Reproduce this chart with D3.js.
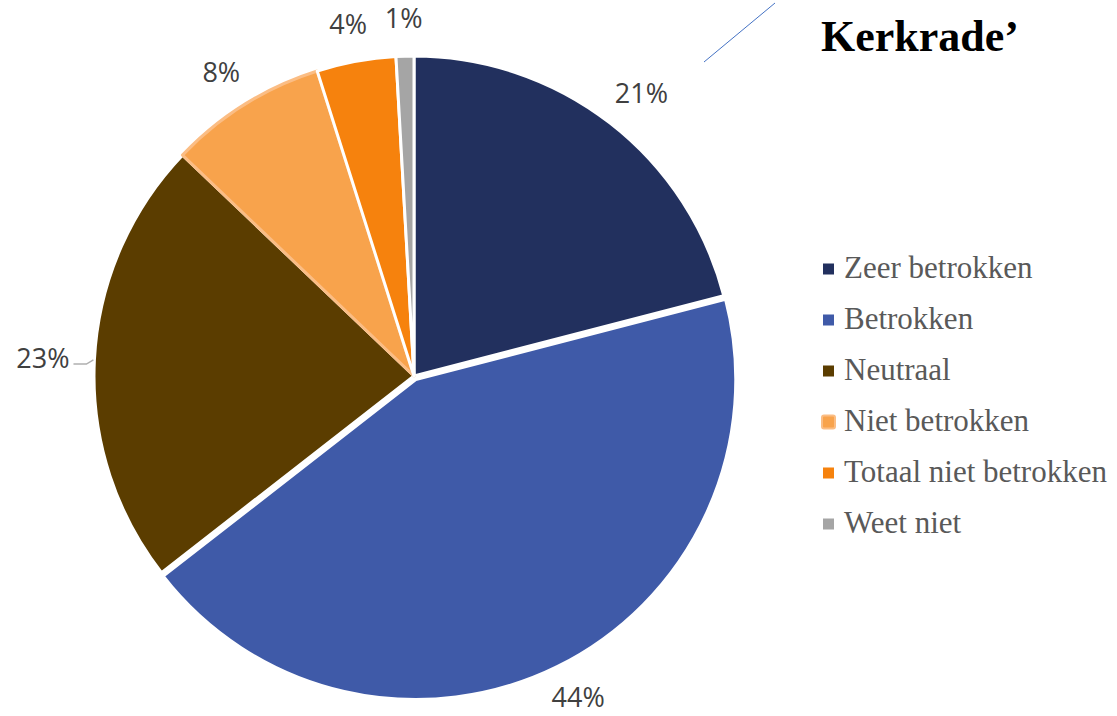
<!DOCTYPE html>
<html><head><meta charset="utf-8">
<script src="https://cdn.jsdelivr.net/npm/d3@7"></script>
<style>body{margin:0;background:#fff;} svg{display:block;}</style>
</head><body>
<svg id="c" width="1117" height="716"></svg>
<script>
const categories = ["Zeer betrokken","Betrokken","Neutraal","Niet betrokken","Totaal niet betrokken","Weet niet"];
const values = [21.0, 43.6, 22.7, 8.0, 4.0, 0.9];
const colors = ["#22305e","#3f5aa8","#5b3d00","#f8a34c","#f6820d","#a5a5a5"];
const strokes = ["#ffffff","#ffffff","#ffffff","#fbbd84","#ffffff","#ffffff"];
const explode = [0, 4, 0, 0, 0, 0];
const title = "Kerkrade’";

const svg = d3.select("#c");
const cx = 414, cy = 376, R = 320;
const total = d3.sum(values);
const pie = d3.pie().sort(null).value(d => d)(values);
const arc = d3.arc().innerRadius(0).outerRadius(R);
const LR = 345;
const g = svg.append("g").attr("transform", `translate(${cx},${cy})`);

g.selectAll("path.slice").data(pie).join("path")
  .attr("class","slice")
  .attr("d", arc)
  .attr("fill", (d,i) => colors[i])
  .attr("stroke", (d,i) => strokes[i])
  .attr("stroke-width", 3)
  .attr("stroke-linejoin","round")
  .attr("transform", (d,i) => {
    const a = (d.startAngle + d.endAngle)/2;
    return `translate(${explode[i]*Math.sin(a)},${-explode[i]*Math.cos(a)})`;
  });

const fmt = v => Math.round(v/total*100) + "%";
const labs = g.selectAll("text.lab").data(pie).join("text")
  .attr("class","lab")
  .attr("text-anchor","middle")
  .attr("dy","0.36em")
  .attr("font-family","'Open Sans', sans-serif")
  .attr("font-size", 27)
  .attr("fill","#404040")
  .text(d => fmt(d.value));
const labPos = [];
labs.each(function(d, i) {
  const bb = this.getBBox();
  const a = (d.startAngle + d.endAngle)/2;
  const hw = bb.width/2, hh = 13;
  const x = LR*Math.sin(a) + hw*Math.sin(a);
  const y = -LR*Math.cos(a) - hh*Math.cos(a);
  labPos[i] = [x, y, hw];
  d3.select(this).attr("x", x).attr("y", y);
});

// leader line for Neutraal label
{
  const d = pie[2];
  const a = (d.startAngle + d.endAngle)/2;
  const p1 = [(R+1)*Math.sin(a), -(R+1)*Math.cos(a)];
  const lp = labPos[2];
  const p0 = [lp[0] + lp[2] + 4, lp[1] + 6];
  const pm = [p1[0] - 7, p0[1]];
  g.append("path")
    .attr("d", d3.line()([p0, pm, p1]))
    .attr("fill","none").attr("stroke","#b0b0b0").attr("stroke-width",1.5);
}

// stray blue line near title
svg.append("line").attr("x1",704).attr("y1",62).attr("x2",775).attr("y2",3)
  .attr("stroke","#4472c4").attr("stroke-width",1);

svg.append("text").attr("x",821).attr("y",51)
  .attr("font-family","'Liberation Serif', serif").attr("font-weight","bold")
  .attr("font-size",44).attr("fill","#000").text(title);

const lg = svg.append("g").attr("transform","translate(823,0)");
const rowY = i => 269 + i*51;
lg.selectAll("rect").data(categories).join("rect")
  .attr("x", (d,i) => i===3 ? -1 : 0)
  .attr("y", (d,i) => rowY(i) - (i===3 ? 6.5 : 5.5))
  .attr("width", (d,i) => i===3 ? 13 : 11)
  .attr("height", (d,i) => i===3 ? 13 : 11)
  .attr("rx", (d,i) => i===3 ? 2 : 0)
  .attr("fill", (d,i) => colors[i])
  .attr("stroke", (d,i) => i===3 ? strokes[i] : "none")
  .attr("stroke-width", 2);
lg.selectAll("text").data(categories).join("text")
  .attr("x", 21)
  .attr("y", (d,i) => rowY(i) + 9)
  .attr("font-family","'Liberation Serif', serif")
  .attr("font-size", 31)
  .attr("fill","#595959")
  .text(d => d);
</script>
</body></html>
